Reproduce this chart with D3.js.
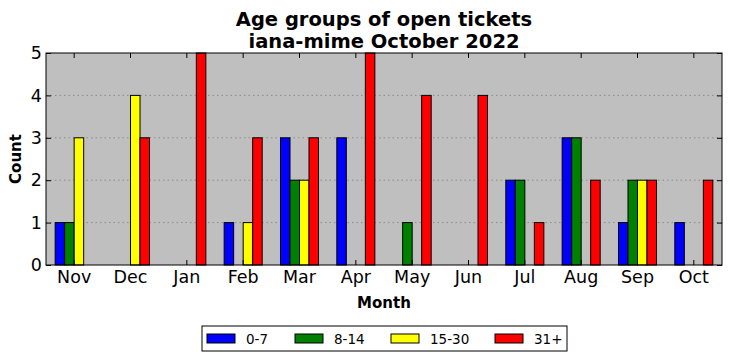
<!DOCTYPE html>
<html>
<head>
<meta charset="utf-8">
<script src="https://cdn.jsdelivr.net/npm/d3@7"></script>
<style>
  body { margin: 0; background: #fff; }
  svg { font-family: 'DejaVu Sans', sans-serif; }
</style>
</head>
<body>
<svg width="732" height="361"></svg>
<script>
'use strict'

const months = ['Nov', 'Dec', 'Jan', 'Feb', 'Mar', 'Apr', 'May', 'Jun', 'Jul', 'Aug', 'Sep', 'Oct']
const groups = ['0-7', '8-14', '15-30', '31+']
const colors = ['#0000ff', '#008000', '#ffff00', '#ff0000']

const age0to7 = [1, 0, 0, 1, 3, 3, 0, 0, 2, 3, 1, 1]
const age8to14 = [1, 0, 0, 0, 2, 0, 1, 0, 2, 3, 2, 0]
const age15to30 = [3, 4, 0, 1, 2, 0, 0, 0, 0, 0, 2, 0]
const age31plus = [0, 3, 5, 3, 3, 5, 4, 4, 1, 2, 2, 2]
const yTicks = [0, 1, 2, 3, 4, 5]

const series = [age0to7, age8to14, age15to30, age31plus]

const margin = { top: 53, right: 10, bottom: 96, left: 46 }
const width = 732 - margin.left - margin.right,
  height = 361 - margin.top - margin.bottom

const svg = d3.select('svg')
const g = svg.append('g').attr('transform', 'translate(' + margin.left + ',' + margin.top + ')')

const x = d3.scaleBand().domain(months).range([0, width])
const groupWidth = x.bandwidth() * 0.675
const xInner = d3.scaleBand().domain(groups).range([0, groupWidth])
const y = d3.scaleLinear().domain([0, 5]).range([height, 0])

// background
g.append('rect')
  .attr('width', width)
  .attr('height', height)
  .attr('fill', '#bfbfbf')

// dotted grid
g.append('g')
  .selectAll('line')
  .data(yTicks.slice(1, -1))
  .enter()
  .append('line')
  .attr('x1', 0)
  .attr('x2', width)
  .attr('y1', d => y(d))
  .attr('y2', d => y(d))
  .attr('stroke', '#8a8a8a')
  .attr('stroke-width', 1)
  .attr('stroke-dasharray', '1.5,3')

// bars
const monthG = g.append('g')
  .selectAll('g')
  .data(months)
  .enter()
  .append('g')
  .attr('transform', d => 'translate(' + (x(d) + (x.bandwidth() - groupWidth) / 2) + ',0)')

monthG.selectAll('rect')
  .data((m, i) => groups.map((grp, j) => ({ grp, j, v: series[j][i] })))
  .enter()
  .filter(d => d.v > 0)
  .append('rect')
  .attr('x', d => xInner(d.grp))
  .attr('y', d => y(d.v))
  .attr('width', xInner.bandwidth())
  .attr('height', d => height - y(d.v))
  .attr('fill', d => colors[d.j])
  .attr('stroke', '#000')
  .attr('stroke-width', 1)

// axes
const bottomAxis = g.append('g')
  .attr('transform', 'translate(0,' + height + ')')
  .call(d3.axisBottom(x).tickSizeInner(-5).tickSizeOuter(0).tickPadding(6))
bottomAxis.select('.domain').remove()
bottomAxis.selectAll('text').attr('font-size', 17.5).attr('fill', '#000')

const topAxis = g.append('g')
  .call(d3.axisTop(x).tickSizeInner(-5).tickSizeOuter(0).tickFormat(''))
topAxis.select('.domain').remove()

const leftAxis = g.append('g')
  .call(d3.axisLeft(y).tickValues(yTicks).tickFormat(d3.format('d'))
    .tickSizeInner(-5).tickSizeOuter(0).tickPadding(4))
leftAxis.select('.domain').remove()
leftAxis.selectAll('text').attr('font-size', 17.5).attr('fill', '#000')

const rightAxis = g.append('g')
  .attr('transform', 'translate(' + width + ',0)')
  .call(d3.axisRight(y).tickValues(yTicks).tickSizeInner(-5).tickSizeOuter(0).tickFormat(''))
rightAxis.select('.domain').remove()

svg.selectAll('.tick line').attr('stroke', '#000')
svg.selectAll('.tick text').attr('font-family', 'DejaVu Sans')

// frame
g.append('rect')
  .attr('width', width)
  .attr('height', height)
  .attr('fill', 'none')
  .attr('stroke', '#000')
  .attr('stroke-width', 1)

// titles
svg.append('text')
  .attr('x', margin.left + width / 2)
  .attr('y', 26)
  .attr('text-anchor', 'middle')
  .attr('font-size', 19.5)
  .attr('font-weight', 'bold')
  .text('Age groups of open tickets')
svg.append('text')
  .attr('x', margin.left + width / 2)
  .attr('y', 48)
  .attr('text-anchor', 'middle')
  .attr('font-size', 19.5)
  .attr('font-weight', 'bold')
  .text('iana-mime October 2022')

svg.append('text')
  .attr('x', margin.left + width / 2)
  .attr('y', 308)
  .attr('text-anchor', 'middle')
  .attr('font-size', 15)
  .attr('font-weight', 'bold')
  .text('Month')

svg.append('text')
  .attr('transform', 'translate(21,' + (margin.top + height / 2) + ') rotate(-90)')
  .attr('text-anchor', 'middle')
  .attr('font-size', 15)
  .attr('font-weight', 'bold')
  .text('Count')

// legend
const legend = svg.append('g').attr('transform', 'translate(202,326)')
legend.append('rect')
  .attr('width', 365)
  .attr('height', 25)
  .attr('fill', '#fff')
  .attr('stroke', '#000')
const legendX = [5, 93, 189, 293]
const item = legend.selectAll('g.item')
  .data(groups)
  .enter()
  .append('g')
  .attr('class', 'item')
  .attr('transform', (d, i) => 'translate(' + legendX[i] + ',0)')
item.append('rect')
  .attr('x', 0)
  .attr('y', 8)
  .attr('width', 28)
  .attr('height', 9)
  .attr('fill', (d, i) => colors[i])
  .attr('stroke', '#000')
item.append('text')
  .attr('x', 39)
  .attr('y', 17.5)
  .attr('font-size', 13.5)
  .text(d => d)
</script>
</body>
</html>
